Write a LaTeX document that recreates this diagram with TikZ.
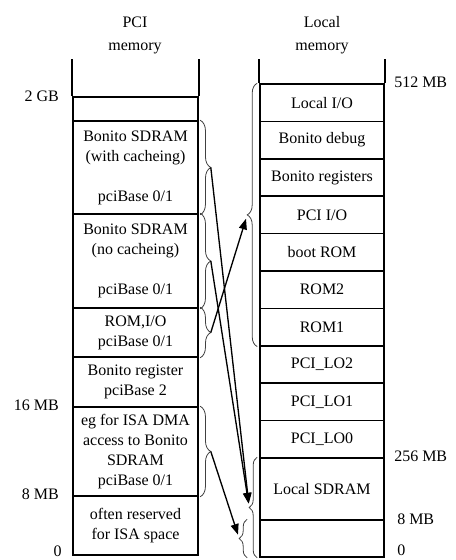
\documentclass[tikz,border=0pt]{standalone}
\usepackage{fontspec}
\setmainfont{Liberation Serif}
\usetikzlibrary{decorations.pathreplacing,arrows.meta,calc}

\begin{document}
\begin{tikzpicture}[x=0.75pt,y=-0.75pt,
    font=\fontsize{12}{15}\selectfont,
    pcibox/.style={draw, line width=1.2pt, minimum width=93.75pt, inner sep=0pt, align=center},
    localbox/.style={draw, line width=1.2pt, minimum width=93pt, minimum height=28pt, inner sep=0pt, align=center},
    addr/.style={inner sep=0pt},
    brc/.style={decorate, decoration={brace, amplitude=#1}, draw=black!75, line width=0.6pt},
    maparrow/.style={-{Triangle[length=8pt,width=6pt]}, line width=1pt, shorten >=3pt}]
        \useasboundingbox (0,0) rectangle (456,560);
        % titles
        \node[addr, anchor=base] (pcititle) at (135,27.5) {PCI};
        \node[addr, anchor=base] (pcimem) at (135,50.7) {memory};
        \node[addr, anchor=base] (loctitle) at (322,27.5) {Local};
        \node[addr, anchor=base] (locmem) at (322,50.7) {memory};
        % PCI memory column
        \node[pcibox, minimum height=18pt] (pciA) at (135.5,109) {};
        \node[pcibox, minimum height=69.75pt] (sdramC) at (135.5,167.5) {Bonito SDRAM\\(with cacheing)\\[15pt]pciBase 0/1};
        \node[pcibox, minimum height=70.5pt] (sdramN) at (135.5,261) {Bonito SDRAM\\(no cacheing)\\[15pt]pciBase 0/1};
        \node[pcibox, minimum height=36.75pt] (romio) at (135.5,332.5) {ROM,I/O\\pciBase 0/1};
        \node[pcibox, minimum height=37.5pt] (bonreg) at (135.5,382) {Bonito register\\pciBase 2};
        \node[pcibox, minimum height=66.75pt] (isadma) at (135.5,451.5) {eg for ISA DMA\\access to Bonito\\SDRAM\\pciBase 0/1};
        \node[pcibox, minimum height=44.25pt] (isares) at (135.5,525.5) {often reserved\\for ISA space};
        \draw[line width=1.2pt] (pciA.north west) -- ++(0,-37);
        \draw[line width=1.2pt] (pciA.north east) -- ++(0,-37);
        % local memory column
        \node[localbox] (lio) at (322,102.7) {Local I/O};
        \node[localbox] (bdebug) at (322,140.1) {Bonito debug};
        \node[localbox] (bregs) at (322,177.5) {Bonito registers};
        \node[localbox] (pciio) at (322,214.9) {PCI I/O};
        \node[localbox] (bootrom) at (322,252.3) {boot ROM};
        \node[localbox] (romB) at (322,289.7) {ROM2};
        \node[localbox] (romA) at (322,327.1) {ROM1};
        \node[localbox] (pcilo2) at (322,364.5) {PCI\_LO2};
        \node[localbox] (pcilo1) at (322,401.9) {PCI\_LO1};
        \node[localbox] (pcilo0) at (322,439.3) {PCI\_LO0};
        \node[localbox, minimum height=46.5pt] (lsdram) at (322,489) {Local SDRAM};
        \node[localbox, minimum height=27.75pt] (lzero) at (322,538.5) {};
        \draw[line width=1.2pt] (lio.north west) -- ++(0,-24);
        \draw[line width=1.2pt] (lio.north east) -- ++(0,-24);
        % addresses
        \node[addr, anchor=east] (gb2) at (59,96) {2 GB};
        \node[addr, anchor=east] (mb16) at (59,405) {16 MB};
        \node[addr, anchor=east] (mb8) at (59,494) {8 MB};
        \node[addr, anchor=east] (pzero) at (62,551) {0};
        \node[addr, anchor=west] (mb512) at (394,82) {512 MB};
        \node[addr, anchor=west] (mb256) at (394,456) {256 MB};
        \node[addr, anchor=west] (lmb8) at (397,519) {8 MB};
        \node[addr, anchor=base west] (lzero0) at (397,555) {0};
        % braces
        \draw[brc=8pt] ([xshift=1pt]sdramC.north east) -- ([xshift=1pt]sdramC.south east);
        \draw[brc=8pt] ([xshift=1pt]sdramN.north east) -- ([xshift=1pt]sdramN.south east);
        \draw[brc=8pt] ([xshift=1pt]romio.north east) -- ([xshift=1pt]romio.south east);
        \draw[brc=8pt] ([xshift=1pt]isadma.north east) -- ([xshift=1pt]isadma.south east);
        \draw[brc=7.5pt] ([xshift=-1.5pt]romA.south west) -- ([xshift=-1.5pt]lio.north west);
        \draw[brc=6pt] ([xshift=-1.5pt]lzero.south west) -- ([xshift=-1.5pt]lsdram.north west);
        \draw[brc=6pt] ([xshift=-9pt]lzero.south west) -- ([xshift=-9pt]lzero.north west);
        \coordinate (sdramC tip) at ([xshift=9pt]sdramC.east);
        \coordinate (sdramN tip) at ([xshift=9pt]sdramN.east);
        \coordinate (romio tip) at ([xshift=9pt]romio.east);
        \coordinate (isadma tip) at ([xshift=9pt]isadma.east);
        \coordinate (lrom tip) at ($(lio.north west)!0.5!(romA.south west)+(-9pt,0)$);
        \coordinate (lsdram tip) at ($(lsdram.north west)!0.5!(lzero.south west)+(-7.5pt,0)$);
        \coordinate (lzero tip) at ([xshift=-15pt]lzero.west);
        % mappings
        \draw[maparrow] (sdramC tip) -- (lsdram tip);
        \draw[maparrow] (sdramN tip) -- (lsdram tip);
        \draw[maparrow] (romio tip) -- (lrom tip);
        \draw[maparrow] (isadma tip) -- (lzero tip);
\end{tikzpicture}
\end{document}
